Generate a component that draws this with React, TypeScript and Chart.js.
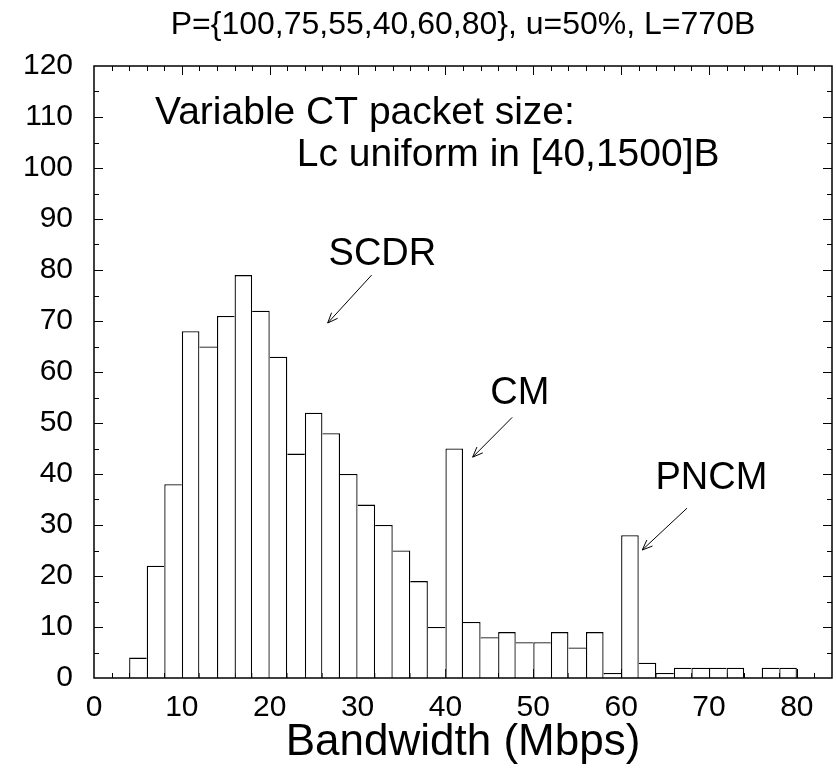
import React, { useEffect, useRef } from "react";
import { Chart, registerables } from "chart.js";

Chart.register(...registerables);

// ---- data ----
const binStart = [4, 6, 8, 10, 12, 14, 16, 18, 20, 22, 24, 26, 28, 30, 32, 34, 36, 38, 40, 42, 44, 46, 48, 50, 52, 54, 56, 58, 60, 62, 64, 66, 68, 70, 72, 74, 76, 78];
const binWidth = 2;
const counts = [4, 22, 38, 68, 65, 71, 79, 72, 63, 44, 52, 48, 40, 34, 30, 25, 19, 10, 45, 11, 8, 9, 7, 7, 9, 6, 9, 1, 28, 3, 1, 2, 2, 2, 2, 0, 2, 2];
const xTickLabels = [0, 10, 20, 30, 40, 50, 60, 70, 80];
const yTickLabels = [0, 10, 20, 30, 40, 50, 60, 70, 80, 90, 100, 110, 120];
const xRange = [0, 84];
const yRange = [0, 120];
const xMinorStep = 2;
const yMinorStep = 5;

const titleText = "P={100,75,55,40,60,80}, u=50%, L=770B";
const xTitle = "Bandwidth (Mbps)";
const noteLine1 = "Variable CT packet size:";
const noteLine2 = "Lc uniform in [40,1500]B";
const callouts = [
  { text: "SCDR", lx: 26.7, ly: 81.0, fx: 31.6, fy: 79.0, tx: 26.6, ty: 69.6 },
  { text: "CM", lx: 45.1, ly: 53.8, fx: 47.6, fy: 51.1, tx: 43.1, ty: 43.3 },
  { text: "PNCM", lx: 63.9, ly: 37.0, fx: 67.5, fy: 33.3, tx: 62.4, ty: 25.1 },
];

const FONT = '"Liberation Sans", Arial, Helvetica, sans-serif';

const decor = {
  id: "decor",
  beforeDatasetsDraw(chart: any) {
    const { ctx, chartArea: a, scales } = chart;
    const x = scales.x;
    const y = scales.y;
    ctx.save();
    ctx.strokeStyle = "#000";
    ctx.lineWidth = 1;
    ctx.beginPath();
    for (let v = xRange[0] + xMinorStep; v < xRange[1]; v += xMinorStep) {
      const px = Math.round(x.getPixelForValue(v)) + 0.5;
      const len = v % 10 === 0 ? 9 : 5;
      ctx.moveTo(px, a.bottom);
      ctx.lineTo(px, a.bottom - len);
      ctx.moveTo(px, a.top);
      ctx.lineTo(px, a.top + len);
    }
    for (let v = yRange[0] + yMinorStep; v < yRange[1]; v += yMinorStep) {
      const py = Math.round(y.getPixelForValue(v)) + 0.5;
      const len = v % 10 === 0 ? 9 : 5;
      ctx.moveTo(a.left, py);
      ctx.lineTo(a.left + len, py);
      ctx.moveTo(a.right, py);
      ctx.lineTo(a.right - len, py);
    }
    ctx.stroke();
    ctx.restore();
  },
  afterDatasetsDraw(chart: any) {
    const { ctx, chartArea: a, scales } = chart;
    const x = scales.x;
    const y = scales.y;
    ctx.save();
    ctx.strokeStyle = "#000";
    ctx.lineWidth = 1.5;
    ctx.strokeRect(a.left, a.top, a.right - a.left, a.bottom - a.top);

    ctx.fillStyle = "#000";
    // title
    ctx.font = `32px ${FONT}`;
    ctx.textAlign = "center";
    ctx.textBaseline = "middle";
    ctx.fillText(titleText, (a.left + a.right) / 2, 25);

    // note
    ctx.font = `39px ${FONT}`;
    ctx.textBaseline = "alphabetic";
    ctx.textAlign = "left";
    ctx.fillText(noteLine1, x.getPixelForValue(6.95), y.getPixelForValue(108.7));
    ctx.textAlign = "right";
    ctx.fillText(noteLine2, x.getPixelForValue(71.2), y.getPixelForValue(100.3));

    // callouts
    ctx.font = `38px ${FONT}`;
    ctx.textAlign = "left";
    ctx.lineWidth = 1;
    for (const c of callouts) {
      ctx.fillText(c.text, x.getPixelForValue(c.lx), y.getPixelForValue(c.ly));
      const x1 = x.getPixelForValue(c.fx);
      const y1 = y.getPixelForValue(c.fy);
      const x2 = x.getPixelForValue(c.tx);
      const y2 = y.getPixelForValue(c.ty);
      ctx.beginPath();
      ctx.moveTo(x1, y1);
      ctx.lineTo(x2, y2);
      const ang = Math.atan2(y2 - y1, x2 - x1);
      const hl = 11;
      const ha = (22 * Math.PI) / 180;
      ctx.moveTo(x2 - hl * Math.cos(ang - ha), y2 - hl * Math.sin(ang - ha));
      ctx.lineTo(x2, y2);
      ctx.lineTo(x2 - hl * Math.cos(ang + ha), y2 - hl * Math.sin(ang + ha));
      ctx.stroke();
    }
    ctx.restore();
  },
};

export default function App() {
  const ref = useRef<HTMLCanvasElement>(null);
  useEffect(() => {
    const data = binStart.map((b, i) => ({ x: b + binWidth / 2, y: counts[i] }));
    const bw = 1.3;
    const chart = new Chart(ref.current as HTMLCanvasElement, {
      type: "bar",
      data: {
        datasets: [
          {
            data: data as any,
            backgroundColor: "#ffffff",
            borderColor: "#000000",
            borderSkipped: false,
            inflateAmount: 0,
            borderWidth: (c: any) => {
              const i = c.dataIndex;
              const v = counts[i] ?? 0;
              const prev = i > 0 ? counts[i - 1] : 0;
              const next = i < counts.length - 1 ? counts[i + 1] : 0;
              return { top: bw, bottom: 0, left: prev <= v ? bw : 0, right: next < v ? bw : 0 };
            },
            barPercentage: 1,
            categoryPercentage: 1,
          } as any,
        ],
      },
      options: {
        animation: false,
        responsive: true,
        maintainAspectRatio: false,
        devicePixelRatio: 1,
        layout: { padding: { top: 66, right: 4, left: 0, bottom: 0 } },
        plugins: { legend: { display: false }, tooltip: { enabled: false }, title: { display: false } },
        scales: {
          x: {
            type: "linear",
            min: xRange[0],
            max: xRange[1],
            offset: false,
            grid: { display: false, drawTicks: false, offset: false },
            border: { display: false },
            afterBuildTicks: (s: any) => {
              s.ticks = xTickLabels.map((v) => ({ value: v }));
            },
            afterFit: (s: any) => {
              s.height = 91;
            },
            ticks: {
              autoSkip: false,
              maxRotation: 0,
              padding: 12,
              color: "#000",
              font: { family: FONT, size: 30 },
            },
            title: {
              display: true,
              text: xTitle,
              color: "#000",
              font: { family: FONT, size: 44, lineHeight: 1 },
              padding: { top: 0, bottom: 4 },
            },
          },
          y: {
            type: "linear",
            min: yRange[0],
            max: yRange[1],
            grid: { display: false, drawTicks: false },
            border: { display: false },
            afterBuildTicks: (s: any) => {
              s.ticks = yTickLabels.map((v) => ({ value: v }));
            },
            afterFit: (s: any) => {
              s.width = 94;
            },
            ticks: {
              padding: 21,
              color: "#000",
              font: { family: FONT, size: 30 },
            },
          },
        },
      },
      plugins: [decor],
    } as any);
    return () => chart.destroy();
  }, []);
  return (
    <div style={{ position: "fixed", left: 0, top: 0, width: 836, height: 769, background: "#fff" }}>
      <canvas ref={ref} />
    </div>
  );
}
